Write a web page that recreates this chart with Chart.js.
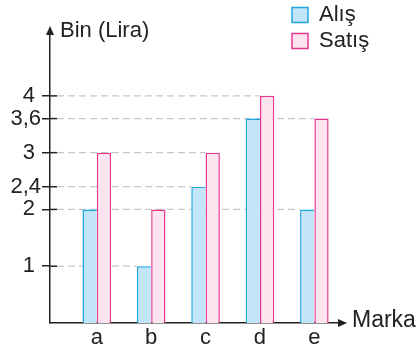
<!DOCTYPE html>
<html>
<head>
<meta charset="utf-8">
<script src="https://cdn.jsdelivr.net/npm/chart.js@4/dist/chart.umd.min.js"></script>
<style>
  html, body { margin: 0; padding: 0; background: #fff; }
  #wrap { position: relative; width: 419px; height: 350px; }
</style>
</head>
<body>
<div id="wrap"><canvas id="chart"></canvas></div>
<script>
// Brands on the horizontal axis
const brands = ['a', 'b', 'c', 'd', 'e'];
// Purchase (Alış) and sale (Satış) prices, thousand lira
const alis = [2, 1, 2.4, 3.6, 2];
const satis = [3, 2, 3, 4, 3.6];
// Values marked on the vertical axis
const yTicks = [1, 2, 2.4, 3, 3.6, 4];
const seriesNames = ['Alış', 'Satış'];
const yTitle = 'Bin (Lira)';
const xTitle = 'Marka';

const FONT = '"Liberation Sans", Arial, Helvetica, sans-serif';
const INK = '#222222';
const GUIDE = '#c8c8c8';

Chart.defaults.font.family = FONT;
Chart.defaults.color = INK;

const toPoints = vals => vals.map((v, i) => ({ x: i, y: v }));
const fmt = v => Number.isInteger(v) ? v + ' ' : String(v).replace('.', ',');

// Axis arrows, axis titles, inner tick stubs and dashed guides to the bars
const decor = {
  id: 'decor',
  afterLayout(chart) {
    const lg = chart.legend;
    if (!lg) return;
    const w = lg.width, h = lg.height;
    lg.left = 288; lg.right = lg.left + w;
    lg.top = 0; lg.bottom = lg.top + h;
  },
  beforeDatasetsDraw(chart) {
    const { ctx, chartArea: area, scales: { y } } = chart;
    ctx.save();
    yTicks.forEach(v => {
      const py = y.getPixelForValue(v);
      let end = null;
      chart.data.datasets.forEach((ds, di) => {
        const meta = chart.getDatasetMeta(di);
        ds.data.forEach((pt, i) => {
          if (Math.abs(pt.y - v) < 1e-9) {
            const { x: bx, width } = meta.data[i].getProps(['x', 'width'], true);
            const edge = bx - width / 2;
            if (end === null || edge > end) end = edge;
          }
        });
      });
      if (end !== null) {
        ctx.setLineDash([7, 4]);
        ctx.strokeStyle = GUIDE;
        ctx.lineWidth = 1.3;
        ctx.beginPath();
        ctx.moveTo(area.left + 7, py);
        ctx.lineTo(end, py);
        ctx.stroke();
      }
      ctx.setLineDash([]);
      ctx.strokeStyle = INK;
      ctx.lineWidth = 1.5;
      ctx.beginPath();
      ctx.moveTo(area.left, py);
      ctx.lineTo(area.left + 7, py);
      ctx.stroke();
    });
    ctx.restore();
  },
  afterDraw(chart) {
    const { ctx, chartArea: area } = chart;
    ctx.save();
    ctx.fillStyle = INK;
    // vertical axis arrow
    ctx.beginPath();
    ctx.moveTo(area.left, area.top - 4);
    ctx.lineTo(area.left - 4, area.top + 5);
    ctx.lineTo(area.left + 4, area.top + 5);
    ctx.closePath();
    ctx.fill();
    // horizontal axis arrow
    ctx.beginPath();
    ctx.moveTo(area.right + 6, area.bottom);
    ctx.lineTo(area.right - 3, area.bottom - 4);
    ctx.lineTo(area.right - 3, area.bottom + 4);
    ctx.closePath();
    ctx.fill();
    // axis titles
    ctx.textBaseline = 'alphabetic';
    ctx.textAlign = 'left';
    ctx.font = '22px ' + FONT;
    ctx.fillText(yTitle, area.left + 10, area.top + 7);
    ctx.font = '23px ' + FONT;
    ctx.fillText(xTitle, area.right + 11, area.bottom + 4);
    ctx.restore();
  }
};

new Chart(document.getElementById('chart'), {
  type: 'bar',
  data: {
    datasets: [
      {
        label: seriesNames[0],
        data: toPoints(alis),
        backgroundColor: '#c2e5f7',
        borderColor: '#1fa6e0',
        borderWidth: { left: 1.5, top: 1.5, right: 0, bottom: 0 },
        borderSkipped: false
      },
      {
        label: seriesNames[1],
        data: toPoints(satis),
        backgroundColor: '#fce5ef',
        borderColor: '#e5378f',
        borderWidth: 1.5
      }
    ]
  },
  options: {
    responsive: true,
    maintainAspectRatio: false,
    animation: false,
    events: [],
    categoryPercentage: 0.525,
    barPercentage: 1,
    layout: { padding: { top: 30, right: 78, bottom: 0, left: 0 } },
    scales: {
      x: {
        type: 'linear',
        min: -0.86,
        max: 4.49,
        offset: false,
        afterBuildTicks: s => { s.ticks = brands.map((_, i) => ({ value: i })); },
        ticks: {
          callback: v => brands[v],
          font: { size: 22 },
          color: INK,
          padding: -6,
          autoSkip: false,
          maxRotation: 0
        },
        grid: { display: false, offset: false },
        border: { display: true, color: INK, width: 1.5 },
        afterFit: s => { s.height = 27; }
      },
      y: {
        min: 0,
        max: 5.16,
        afterBuildTicks: s => { s.ticks = yTicks.map(v => ({ value: v })); },
        ticks: {
          callback: v => fmt(v),
          font: { size: 22 },
          color: INK,
          padding: 1,
          autoSkip: false
        },
        grid: { drawOnChartArea: false, drawTicks: true, tickLength: 8, color: INK, lineWidth: 1.5 },
        border: { display: true, color: INK, width: 1.5 },
        afterFit: s => { s.width = 50; }
      }
    },
    plugins: {
      tooltip: { enabled: false },
      legend: {
        position: 'chartArea',
        align: 'start',
        labels: {
          boxWidth: 16,
          boxHeight: 15,
          padding: 4,
          color: INK,
          font: { size: 22 },
          generateLabels(chart) {
            return Chart.defaults.plugins.legend.labels.generateLabels(chart)
              .map(item => Object.assign(item, { lineWidth: 1.5 }));
          }
        }
      }
    }
  },
  plugins: [decor]
});
</script>
</body>
</html>
